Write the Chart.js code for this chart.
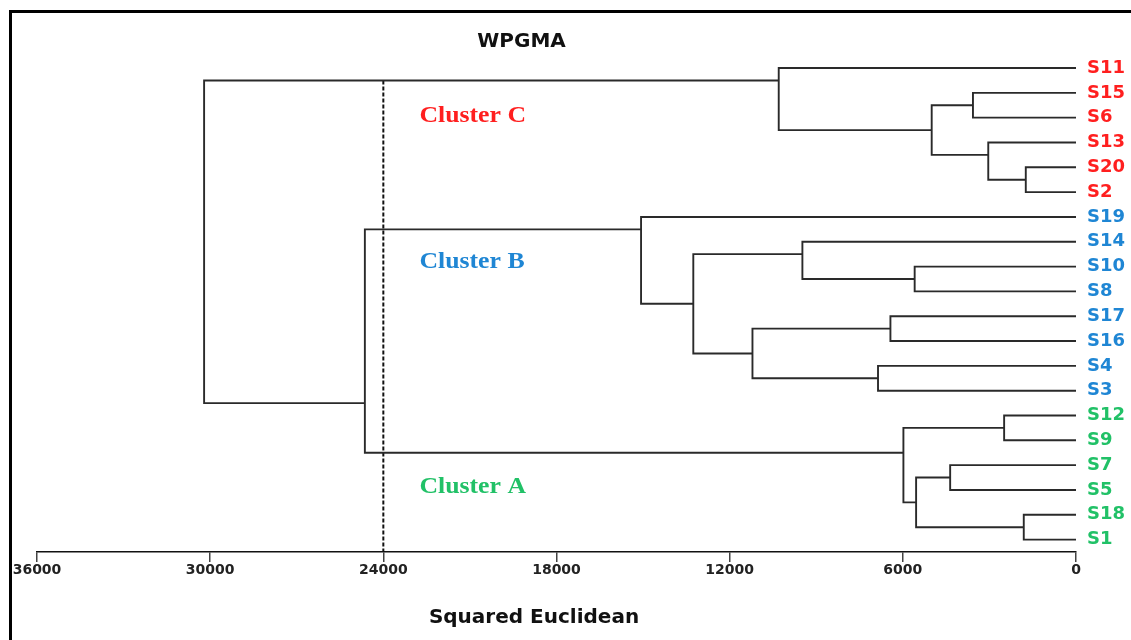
<!DOCTYPE html>
<html>
<head>
<meta charset="utf-8">
<script src="https://cdn.jsdelivr.net/npm/chart.js@4.4.1/dist/chart.umd.min.js"></script>
<style>
html,body{margin:0;padding:0;background:#fff;}
#wrap{position:relative;width:1131px;height:640px;}
</style>
</head>
<body>
<div id="wrap"><canvas id="c" width="1131" height="640"></canvas></div>
<script>
// ---- data ----
const chartTitle = 'WPGMA';
const axisTitle = 'Squared Euclidean';
const leaves = ['S11','S15','S6','S13','S20','S2','S19','S14','S10','S8','S17','S16','S4','S3','S12','S9','S7','S5','S18','S1'];
const leafCluster = ['C','C','C','C','C','C','B','B','B','B','B','B','B','B','A','A','A','A','A','A'];
const clusterNames = ['Cluster C','Cluster B','Cluster A'];
const clusterKeys = ['C','B','A'];
const clusterColors = {C:'#ff1f1f', B:'#1f86d4', A:'#21c167'};
// merges (m1..m19): children are leaf names or merge ids "mN"
const mergeLeft  = ['S20','S18','S12','S13','S15','S7','m5','m6','S10','m3','S17','S4','S14','S11','m11','m13','S19','m17','m14'];
const mergeRight = ['S2','S1','S9','m1','S6','S5','m4','m2','S8','m8','S16','S3','m9','m7','m12','m15','m16','m10','m18'];
const mergeHeight = [1740,1810,2490,3040,3570,4360,5000,5540,5590,5980,6430,6860,9480,10300,11210,13260,15070,24640,30210];
// row (in leaf units) where each merged node connects to its parent, as drawn
const nodeRow = [4.5,18.5,14.5,3.5,1.5,16.5,2.5,17.5,8.5,15.5,10.5,12.5,7.5,0.5,11.5,9.5,6.5,13.5,null];
const cutHeight = 24000;
const xTickValues = [0,6000,12000,18000,24000,30000,36000];

// ---- build line paths from the tree ----
function childInfo(id){
  if (id[0] === 'm') { const k = parseInt(id.slice(1),10)-1; return {h: mergeHeight[k], r: nodeRow[k]}; }
  return {h: 0, r: leaves.indexOf(id)};
}
const lineColor = '#2a2a2a';
const datasets = mergeHeight.map((h,k) => {
  const a = childInfo(mergeLeft[k]), b = childInfo(mergeRight[k]);
  return {
    data: [{x:a.h,y:a.r},{x:h,y:a.r},{x:h,y:b.r},{x:b.h,y:b.r}],
    showLine: true, borderColor: lineColor, borderWidth: 1.9, pointRadius: 0,
    tension: 0, fill: false
  };
});
datasets.push({
  data: [{x:cutHeight,y:nodeRow[13]},{x:cutHeight,y:19.5}],
  showLine: true, borderColor: '#111', borderWidth: 2, borderDash: [4,2], pointRadius: 0
});

const clusterLabelRows = [1.95, 7.83, 16.9];
const clusterLabelX = 22750;

const decor = {
  id: 'decor',
  afterDraw(chart){
    const ctx = chart.ctx;
    const xs = chart.scales.x, ys = chart.scales.y;
    ctx.save();
    // frame
    ctx.fillStyle = '#000';
    ctx.fillRect(9, 10, 1122, 3);
    ctx.fillRect(9, 10, 3, 630);
    // chart title
    ctx.fillStyle = '#111';
    ctx.font = 'bold 20px "DejaVu Sans"';
    ctx.textAlign = 'center';
    ctx.textBaseline = 'middle';
    ctx.fillText(chartTitle, 521.5, 42);
    // axis title
    ctx.fillText(axisTitle, 534, 618);
    // cluster labels
    ctx.textAlign = 'left';
    ctx.font = 'bold 23px "Liberation Serif"';
    clusterNames.forEach((name,i) => {
      const px = xs.getPixelForValue(clusterLabelX);
      const py = ys.getPixelForValue(clusterLabelRows[i]);
      ctx.save();
      ctx.translate(px, py);
      ctx.scale(1.12, 1);
      ctx.fillStyle = clusterColors[clusterKeys[i]];
      ctx.fillText(name, 0, 0);
      ctx.restore();
    });
    ctx.restore();
  }
};

new Chart(document.getElementById('c'), {
  type: 'scatter',
  data: { datasets },
  options: {
    responsive: false,
    animation: false,
    layout: { padding: { left: 37, top: 30.8, right: 0, bottom: 0 } },
    plugins: { legend: {display:false}, tooltip: {enabled:false}, title: {display:false} },
    scales: {
      x: {
        type: 'linear', reverse: true, min: 0, max: 36000, position: 'bottom',
        afterBuildTicks: s => { s.ticks = xTickValues.map(v => ({value: v})); },
        afterFit: s => { s.height = 88; },
        ticks: { font: {family: 'DejaVu Sans', weight: 'bold', size: 14}, color: '#222', padding: 0, maxRotation: 0, autoSkip: false,
                 callback: v => String(v) },
        grid: { drawOnChartArea: false, drawTicks: true, tickLength: 10, color: '#444', lineWidth: 1.5 },
        border: { display: true, color: '#111', width: 1.5 }
      },
      y: {
        type: 'linear', reverse: true, min: -1.5, max: 19.5, position: 'right',
        afterBuildTicks: s => { s.ticks = leaves.map((_, i) => ({value: i})); },
        afterFit: s => { s.width = 55; },
        ticks: {
          font: {family: 'DejaVu Sans', weight: 'bold', size: 18},
          color: c => clusterColors[leafCluster[c.tick ? c.tick.value : c.index]],
          padding: 11, autoSkip: false,
          callback: v => leaves[v]
        },
        grid: { display: false, drawTicks: false },
        border: { display: false }
      }
    }
  },
  plugins: [decor]
});
</script>
</body>
</html>
